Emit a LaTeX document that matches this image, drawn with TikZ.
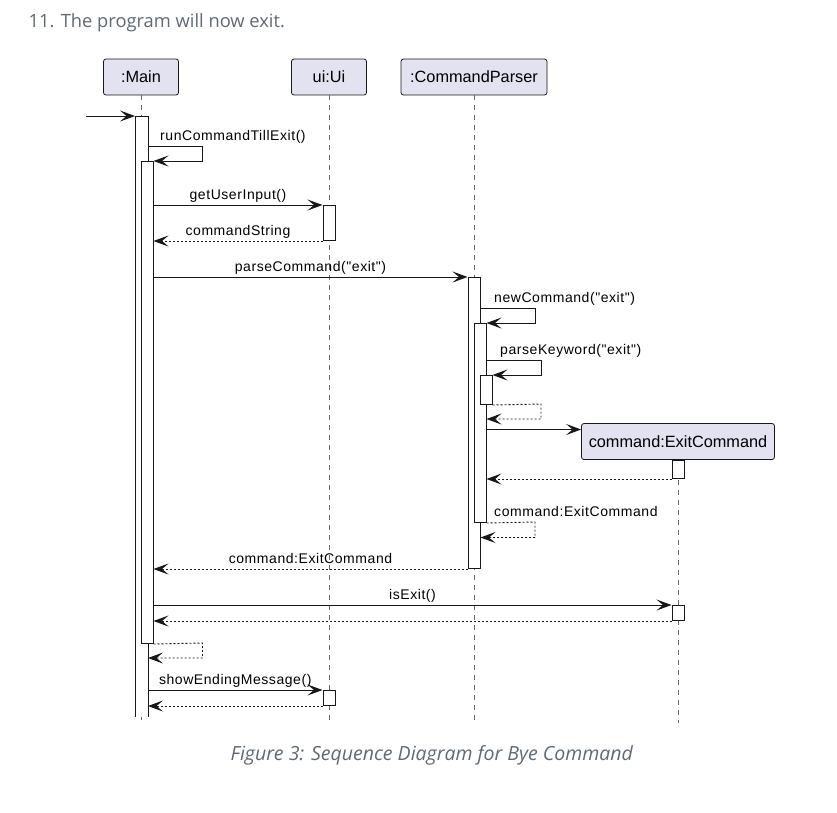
\documentclass[tikz,border=0pt]{standalone}
\usepackage{fontspec}
\setmainfont{Liberation Sans}
\newfontfamily\osans{Open Sans}
\newfontfamily\umlmsg[LetterSpace=4]{Liberation Sans}
\newfontfamily\umlpart{Liberation Sans}
\usetikzlibrary{arrows.meta}
\definecolor{pbox}{HTML}{E2E2F0}
\definecolor{pline}{HTML}{181818}
\definecolor{txtgray}{HTML}{5E6A75}
\newcommand\partfnt{\umlpart\fontsize{16.3}{19}\selectfont}
\newcommand\msgfnt{\umlmsg\fontsize{14}{16}\selectfont}
\newcommand\titlefnt{\osans\fontsize{18.3}{22}\selectfont}
\newcommand\captfnt{\osans\itshape\fontsize{19.5}{23}\selectfont}
\begin{document}
\begin{tikzpicture}[x=1pt,y=-1pt,
  part/.style={draw=pline, fill=pbox, line width=0.8pt, rounded corners=2.5pt, minimum height=36pt, inner sep=0pt, font=\partfnt},
  bar/.style={draw=pline, fill=white, line width=1pt, minimum width=12pt, inner sep=0pt, anchor=north},
  life/.style={draw=pline!65, line width=0.6pt, dash pattern=on 5pt off 5pt},
  msg/.style={draw=pline, line width=1pt, -{Stealth[length=15pt,width=11pt,inset=6.5pt]}},
  ret/.style={msg, line width=0.9pt, dash pattern=on 2pt off 2pt},
  lbl/.style={font=\msgfnt, inner sep=0pt, text=black},
  mlbl/.style={lbl, midway, anchor=base, yshift=6pt}
]
\useasboundingbox (0,0) rectangle (837,812);
\fill[white] (0,0) rectangle (837,812);

% title and caption
\node[anchor=base west, inner sep=0pt, font=\titlefnt, text=txtgray] (title) at (28.5,27.5) {11. The program will now exit.};
\node[anchor=base west, inner sep=0pt, font=\captfnt, text=txtgray] (caption) at (230.5,760.5) {Figure 3: Sequence Diagram for Bye Command};

% participants
\node[part, minimum width=75pt] (main) at (141,77) {:Main};
\node[part, minimum width=75pt] (ui) at (329,77) {ui:Ui};
\node[part, minimum width=146pt] (cp) at (474,77) {:CommandParser};

% lifelines
\draw[life] (main.south) -- (main.south |- 0,723);
\draw[life] (ui.south) -- (ui.south |- 0,723);
\draw[life] (cp.south) -- (cp.south |- 0,723);
\draw[life] (678,460) -- (678,723);

\node[part, minimum width=193pt] (ec) at (678,441.5) {command:ExitCommand};

% activation bars
\node[bar, draw=none, minimum height=600pt] (mA) at (141.5,116) {};
\draw[draw=pline, line width=1pt] (mA.south west) -- (mA.north west) -- (mA.north east) -- (mA.south east);
\node[bar, minimum height=482pt] (mB) at (147,161) {};
\node[bar, minimum height=35pt] (u1) at (329,205) {};
\node[bar, minimum height=15pt] (u2) at (329,690) {};
\node[bar, minimum height=291pt] (cA) at (474,277) {};
\node[bar, minimum height=199pt] (cB) at (480,323) {};
\node[bar, minimum height=29pt] (cC) at (486,375) {};
\node[bar, minimum height=18pt] (e1) at (678,460) {};
\node[bar, minimum height=15pt] (e2) at (678,605) {};

% messages
\coordinate (found) at (86,116);
\draw[msg] (found) -- (mA.north west);

\draw[msg] (mA.east |- 0,146.5) -- (202,146.5) -- (202,161) -- (mB.north east);
\node[lbl, anchor=base west] (l1) at (160,140) {runCommandTillExit()};

\draw[msg] (mB.east |- u1.north) -- (u1.north west) node[mlbl] (l2) {getUserInput()};
\draw[ret] (u1.south west) -- (mB.east |- u1.south) node[mlbl] (l3) {commandString};
\draw[msg] (mB.east |- cA.north) -- (cA.north west) node[mlbl] (l4) {parseCommand("exit")};

\draw[msg] (cA.east |- 0,308.5) -- (535,308.5) -- (535,323) -- (cB.north east);
\node[lbl, anchor=base west] (l5) at (494,302) {newCommand("exit")};

\draw[msg] (cB.east |- 0,360) -- (541,360) -- (541,375) -- (cC.north east);
\node[lbl, anchor=base west] (l6) at (500,354) {parseKeyword("exit")};

\draw[ret] (cC.south east) -- (541,404) -- (541,419) -- (cB.east |- 0,419);

\draw[msg] (cB.east |- 0,429.5) -- (ec.west |- 0,429.5);
\draw[ret] (e1.south west) -- (cB.east |- e1.south);

\draw[ret] (cB.south east) -- (535,522) -- (535,537.5) -- (cA.east |- 0,537.5);
\node[lbl, anchor=base west] (l7) at (494,516) {command:ExitCommand};

\draw[ret] (cA.south west) -- (mB.east |- cA.south) node[mlbl] (l8) {command:ExitCommand};

\draw[msg] (mB.east |- e2.north) -- (e2.north west) node[mlbl] (l9) {isExit()};
\draw[ret] (e2.south west) -- (mB.east |- e2.south);

\draw[ret] (mB.south east) -- (202.5,643) -- (202.5,658) -- (mA.east |- 0,658);

\draw[msg] (mA.east |- u2.north) -- (u2.north west) node[mlbl] (l10) {showEndingMessage()};
\draw[ret] (u2.south west) -- (mA.east |- u2.south);
\end{tikzpicture}
\end{document}
